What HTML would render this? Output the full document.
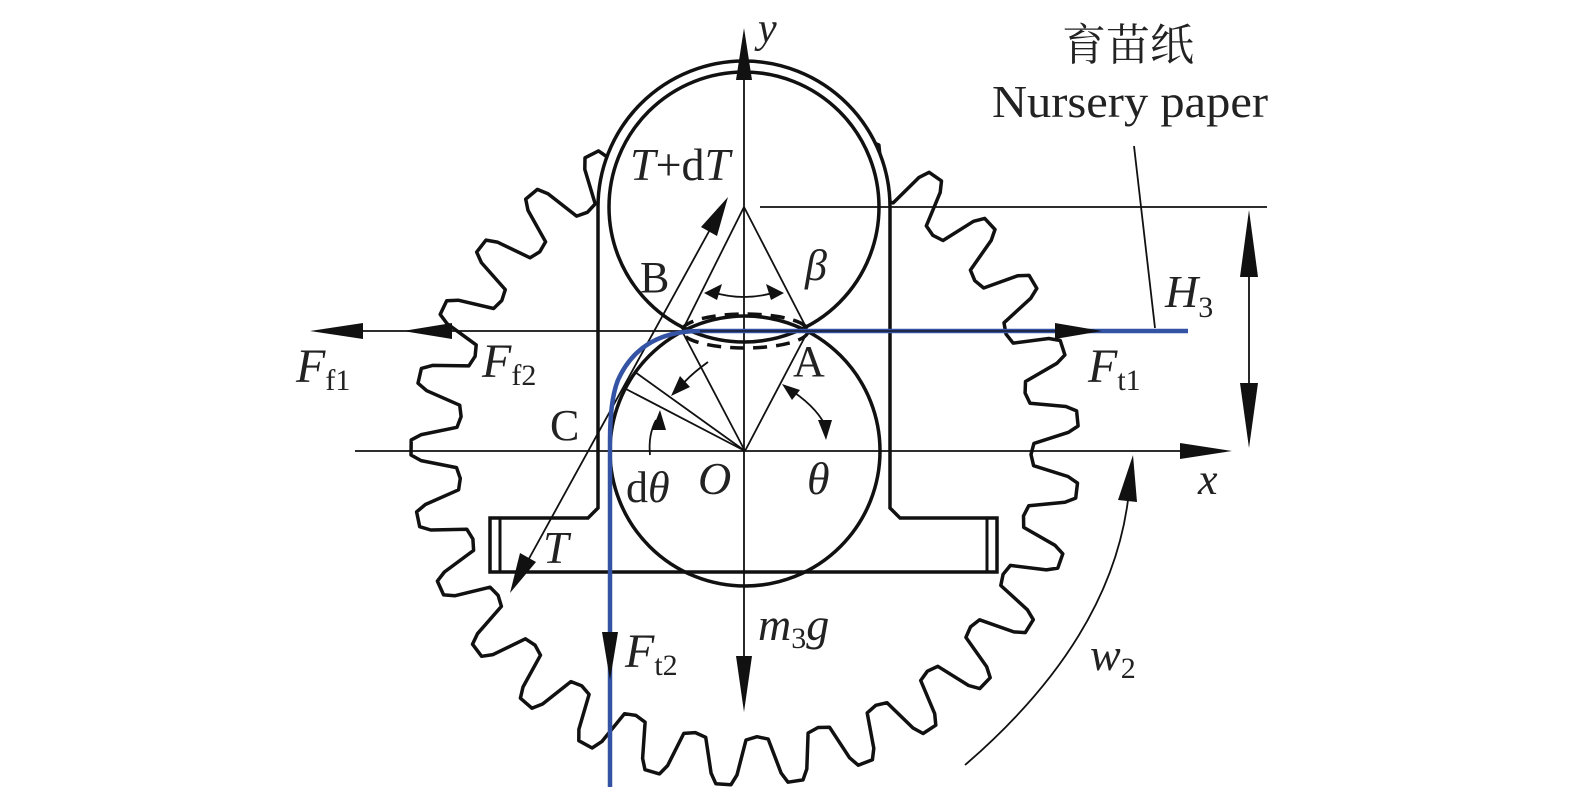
<!DOCTYPE html>
<html><head><meta charset="utf-8"><style>
html,body{margin:0;padding:0;background:#fff;width:1575px;height:792px;overflow:hidden}
text{font-family:"Liberation Serif","Noto Serif CJK SC",serif;fill:#222}
.i{font-style:italic}
</style></head><body>
<svg id="s" width="1575" height="792" viewBox="0 0 1575 792" xmlns="http://www.w3.org/2000/svg">
<g id="gear"></g>
<path d="M598,508 L598,207 A146,146 0 0 1 890,207 L890,508 L900,518 L997,518 L997,572 L490,572 L490,518 L588,518 Z" fill="#fff" stroke="#111" stroke-width="3.5" stroke-linejoin="miter"/>
<line x1="500" y1="518" x2="500" y2="572" stroke="#111" stroke-width="3"/>
<line x1="987" y1="518" x2="987" y2="572" stroke="#111" stroke-width="3"/>
<circle cx="744" cy="207" r="135" fill="none" stroke="#111" stroke-width="3.5"/>
<circle cx="745" cy="451" r="135" fill="none" stroke="#111" stroke-width="3.5"/>
<ellipse cx="745" cy="331" rx="63" ry="17" fill="none" stroke="#111" stroke-width="3.5" stroke-dasharray="14,9"/>
<g stroke="#111" stroke-width="1.8" fill="none">
<line x1="744" y1="40" x2="744" y2="700"/>
<line x1="355" y1="451" x2="1200" y2="451"/>
<line x1="360" y1="331" x2="1060" y2="331"/>
<line x1="760" y1="207" x2="1267" y2="207"/>
<line x1="1249" y1="240" x2="1249" y2="420"/>
<line x1="744" y1="207" x2="682" y2="331"/>
<line x1="744" y1="207" x2="808" y2="331"/>
<line x1="745" y1="451" x2="682" y2="331"/>
<line x1="745" y1="451" x2="808" y2="331"/>
<line x1="745" y1="451" x2="635" y2="372"/>
<line x1="745" y1="451" x2="626" y2="389"/>
<line x1="520" y1="575" x2="718" y2="215"/>
<line x1="1155" y1="328" x2="1134" y2="146"/>
<path d="M965,765 Q1110,640 1128,500"/>
<path d="M712,292 Q744,302 776,292"/>
<path d="M708,362 Q690,375 682,385"/>
<path d="M650,455 Q648,435 656,420"/>
<path d="M786,387 Q815,405 825,425"/>
</g>
<path d="M1188,331 L700,331 Q640,331 618,380 Q610,400 610,440 L610,787" fill="none" stroke="#3553a5" stroke-width="4.5"/>
<line x1="700" y1="331" x2="1060" y2="331" stroke="#111" stroke-width="1.2"/>
<g fill="#111">
<polygon points="744,28 736,80 752,80"/>
<polygon points="744,712 736,656 752,656"/>
<polygon points="1232,451 1180,443 1180,459"/>
<polygon points="310,331 363,323 363,339"/>
<polygon points="403,331 452,323 452,339"/>
<polygon points="1102,331 1055,323 1055,339"/>
<polygon points="1249,210 1240,277 1258,277"/>
<polygon points="1249,448 1240,383 1258,383"/>
<polygon points="610,680 602,632 618,632"/>
<polygon points="728,197 701,227 717,236"/>
<polygon points="510,593 520,553 536,562"/>
<polygon points="1133,455 1118,500 1137,502"/>
<polygon points="704,293 722,284 717,300"/>
<polygon points="784,293 766,284 771,300"/>
<polygon points="671,396 680,376 690,387"/>
<polygon points="660,410 652,430 666,430"/>
<polygon points="782,384 800,390 792,400"/>
<polygon points="826,440 818,420 832,420"/>
</g>
<text x="758" y="42" class="i" font-size="42">y</text>
<text x="1062" y="60" font-size="44">育苗纸</text>
<text x="992" y="117" font-size="46" textLength="276" lengthAdjust="spacingAndGlyphs">Nursery paper</text>
<text x="630" y="180" font-size="46"><tspan class="i">T</tspan>+d<tspan class="i">T</tspan></text>
<text x="805" y="280" class="i" font-size="44">β</text>
<text x="640" y="292" font-size="44">B</text>
<text x="793" y="376" font-size="44">A</text>
<text x="550" y="440" font-size="44">C</text>
<text x="1165" y="307" class="i" font-size="46">H<tspan font-size="30" dy="10" font-style="normal">3</tspan></text>
<text x="296" y="382" class="i" font-size="48">F<tspan font-size="30" dy="8" font-style="normal">f1</tspan></text>
<text x="482" y="377" class="i" font-size="48">F<tspan font-size="30" dy="8" font-style="normal">f2</tspan></text>
<text x="1088" y="382" class="i" font-size="48">F<tspan font-size="30" dy="8" font-style="normal">t1</tspan></text>
<text x="626" y="502" font-size="44">d<tspan class="i">θ</tspan></text>
<text x="698" y="494" class="i" font-size="46">O</text>
<text x="807" y="494" class="i" font-size="46">θ</text>
<text x="1198" y="494" class="i" font-size="44">x</text>
<text x="543" y="563" class="i" font-size="46">T</text>
<text x="625" y="667" class="i" font-size="48">F<tspan font-size="30" dy="8" font-style="normal">t2</tspan></text>
<text x="758" y="640" class="i" font-size="46">m<tspan font-size="30" dy="8" font-style="normal">3</tspan><tspan dy="-8">g</tspan></text>
<text x="1090" y="670" class="i" font-size="46">w<tspan font-size="30" dy="8" font-style="normal">2</tspan></text>
</svg>
<script>
(function(){
var cx=745,cy=451,N=29,Ro=334,Rr=286,ph=-5.5,sp=360/N,d='';
function p(r,a){a=a*Math.PI/180;return (cx+r*Math.cos(a)).toFixed(1)+','+(cy+r*Math.sin(a)).toFixed(1);}
for(var k=0;k<N;k++){
 var a=ph+k*sp;
 var pts=[[Rr,a-sp/2],[Rr+3,a-4.0],[Ro-10,a-2.4],[Ro,a-1.4],[Ro,a+1.2],[Ro-10,a+2.2],[Rr+3,a+4.0]];
 for(var j=0;j<pts.length;j++){d+=(d?' L':'M')+p(pts[j][0],pts[j][1]);}
}
d+=' Z';
document.getElementById('gear').innerHTML='<path d="'+d+'" fill="none" stroke="#111" stroke-width="3.5" stroke-linejoin="round"/>';
})();
</script>
</body></html>
